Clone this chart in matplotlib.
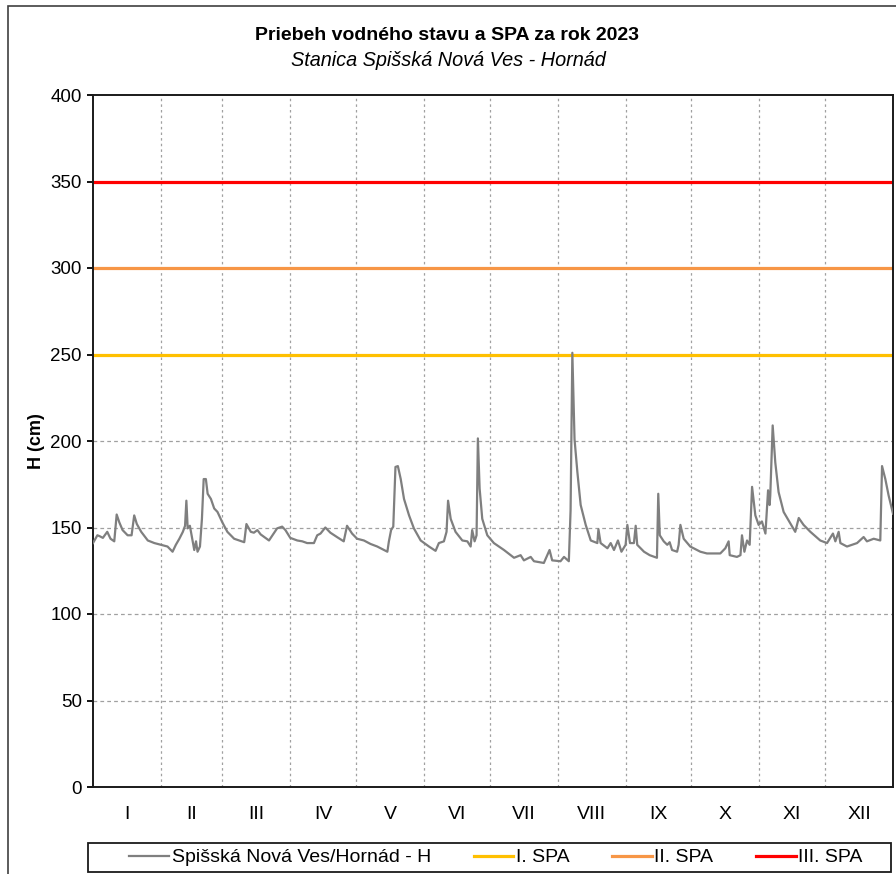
import matplotlib
matplotlib.use('Agg')
import matplotlib.pyplot as plt
from matplotlib.patches import Rectangle
from matplotlib.lines import Line2D

plt.rcParams['font.family'] = ['Liberation Sans', 'DejaVu Sans']

# day of year (0 = 1 Jan 2023) and water level H in cm
day = [0, 2, 3, 4.5, 6.5, 8, 9.7, 10.8, 12, 13.5, 15.8, 17.6, 18.8, 20, 22, 25, 28, 31, 34,
       36.3, 37.8, 39.4, 41, 42, 42.6, 43.2, 44.2, 45, 46.2, 47, 47.7, 48.8, 49.7, 50.5, 51.5,
       52.3, 53.8, 55.3, 56.8, 59, 61.3, 64.4, 69, 70, 72, 73.4, 75, 76.5, 80.3, 84, 86.3, 87.8,
       90, 93.2, 95.5, 97.7, 100.8, 102.3, 103.8, 106, 108.3, 111.3, 114.4, 115.9, 118.2, 120.5,
       123.6, 126.6, 129.7, 134.3, 135, 136, 137, 138, 139.1, 140.4, 141.9, 144.2, 146.4, 149.5,
       153.3, 156.3, 157.8, 160.1, 161.3, 162, 163.2, 165.4, 168.5, 170.8, 172.3, 173, 174.1, 175,
       175.6, 176.4, 177.6, 179.9, 182.9, 187.5, 192.1, 195.1, 196.6, 199.7, 201.2, 205.7, 208.3,
       209.5, 213.3, 214.9, 217.1, 217.9, 218.7, 219.7, 221, 222.5, 224.8, 227.1, 230.1, 230.6,
       231.6, 234.7, 236.2, 237.7, 239.5, 241.1, 243, 243.8, 245, 246.8, 247.6, 248.3, 251.4, 254,
       257.3, 257.9, 258.6, 260.4, 262, 263.1, 264.2, 266.5, 267.2, 268, 269.5, 272.5, 277.1,
       280.1, 286.2, 288.5, 290, 290.5, 293.8, 295.4, 296.1, 297.2, 298.4, 299.6, 300.7, 302.2,
       303.7, 305.2, 306.8, 308, 308.7, 309, 310.1, 311.3, 312.8, 315.1, 317.4, 320.4, 322, 324.2,
       327.3, 331.8, 334.9, 337.6, 338.7, 340.2, 341, 344, 348.6, 351.6, 353.1, 356.2, 359.2, 360,
       361.5, 363, 365]
level = [141, 145.5, 145, 144, 147.5, 143.5, 142, 157.5, 153, 148.5, 145.5, 145.5, 157, 152, 147.5,
         142.5, 141, 140, 139, 136, 140, 143.5, 147.5, 151, 165.5, 149.5, 151, 145.5, 137, 142, 136,
         139, 155, 178, 178, 169.5, 166.5, 161, 159, 153, 147.5, 143.5, 141.5, 152, 147.5, 147,
         148.5, 146, 142.5, 149.5, 150.5, 148.5, 144, 142.5, 142, 141, 141, 145.5, 146.5, 150, 147,
         144.5, 142, 151, 146.5, 143.5, 142.5, 140.5, 139, 136, 142, 148.5, 150.5, 185, 185.5, 178,
         166.5, 157, 149.5, 142.5, 139, 136.5, 141, 142, 147.5, 165.5, 155, 147.5, 142.5, 142, 139,
         148.5, 142, 145.5, 201.5, 172.5, 155, 145.5, 141, 137, 132.5, 134, 131, 133, 130.5, 129.5,
         137, 131, 130.5, 133, 130.5, 160, 251, 201, 182, 163, 151.5, 142.5, 141, 149, 141, 138,
         141, 137, 142.5, 136, 140, 151.5, 141, 141, 151, 140, 136, 134, 132.5, 169.5, 145.5, 142,
         140, 141.5, 137, 136, 140, 151.5, 143.5, 139, 136, 135, 135, 138, 142, 134, 133, 134,
         145.5, 136, 142.5, 140, 173.5, 157, 151.5, 153.5, 146.5, 171.5, 163, 168.5, 209, 187.5,
         170.5, 159, 154, 147.5, 155.5, 151.5, 147.5, 142.5, 141, 146.5, 142, 147.5, 141, 139, 141,
         144.5, 142, 143.5, 142.5, 185.5, 178, 168.5, 158]

spa_levels = [250, 300, 350]
spa_names = ['I. SPA', 'II. SPA', 'III. SPA']
spa_colors = ['#FFC000', '#F79646', '#FF0000']

month_starts = [0, 31, 59, 90, 120, 151, 181, 212, 243, 273, 304, 334, 365]
month_labels = ['I', 'II', 'III', 'IV', 'V', 'VI', 'VII', 'VIII', 'IX', 'X', 'XI', 'XII']
series_name = 'Spišská Nová Ves/Hornád - H'

W, H = 896, 874
fig = plt.figure(figsize=(W / 100, H / 100), dpi=100)
ax = fig.add_axes([93 / W, 87 / H, 800 / W, 692 / H])

# grid
for v in [50, 100, 150, 200]:
    ax.axhline(v, color='#a0a0a0', lw=0.9, ls=(0, (3, 2.5)), zorder=1)
for d in month_starts[1:-1]:
    ax.axvline(d, color='#a0a0a0', lw=0.9, ls=(0, (2, 2.5)), zorder=1)

for lev, c, n in zip(spa_levels, spa_colors, spa_names):
    ax.axhline(lev, color=c, lw=2.3, zorder=2, label=n)

ax.plot(day, level, color='#7f7f7f', lw=1.6, zorder=3, label=series_name)

ax.set_xlim(0, 365)
ax.set_ylim(0, 400)
ax.set_yticks(range(0, 401, 50))
ax.tick_params(axis='y', direction='out', length=4, width=1.3, labelsize=13.5, pad=4)
ax.set_xticks(month_starts, [])
ax.tick_params(axis='x', which='major', length=0)
mids = [(a + b) / 2 for a, b in zip(month_starts[:-1], month_starts[1:])]
ax.set_xticks(mids, month_labels, minor=True)
ax.tick_params(axis='x', which='minor', length=0, labelsize=14, pad=14)
for s in ax.spines.values():
    s.set_linewidth(1.4)
    s.set_color('#1a1a1a')
ax.set_ylabel('H (cm)', fontsize=13, fontweight='bold', labelpad=4)

fig.text(447 / W, 1 - 35 / H, 'Priebeh vodného stavu a SPA za rok 2023',
         ha='center', va='center', fontsize=14, fontweight='bold')
fig.text(448 / W, 1 - 60 / H, 'Stanica Spišská Nová Ves - Hornád',
         ha='center', va='center', fontsize=14.3, style='italic')

# outer chart frame (cut off at right and bottom)
fig.patches.append(Rectangle((8 / W, -0.1), 1.2, (H - 6) / H + 0.1, transform=fig.transFigure,
                             fill=False, edgecolor='#404040', lw=1.2))
# legend frame
fig.patches.append(Rectangle((88 / W, 2 / H), 803 / W, 29 / H, transform=fig.transFigure,
                             fill=False, edgecolor='#1a1a1a', lw=1.3))

handles = [Line2D([], [], color='#7f7f7f', lw=1.6)] + \
          [Line2D([], [], color=c, lw=2.3) for c in spa_colors]
fig.legend(handles, [series_name] + spa_names, loc='center',
           bbox_to_anchor=(496 / W, 1 - 857.5 / H), ncol=4, frameon=False, fontsize=14,
           handlelength=2.05, handletextpad=0.12, columnspacing=2.2)

fig.savefig('out.png', dpi=100)
